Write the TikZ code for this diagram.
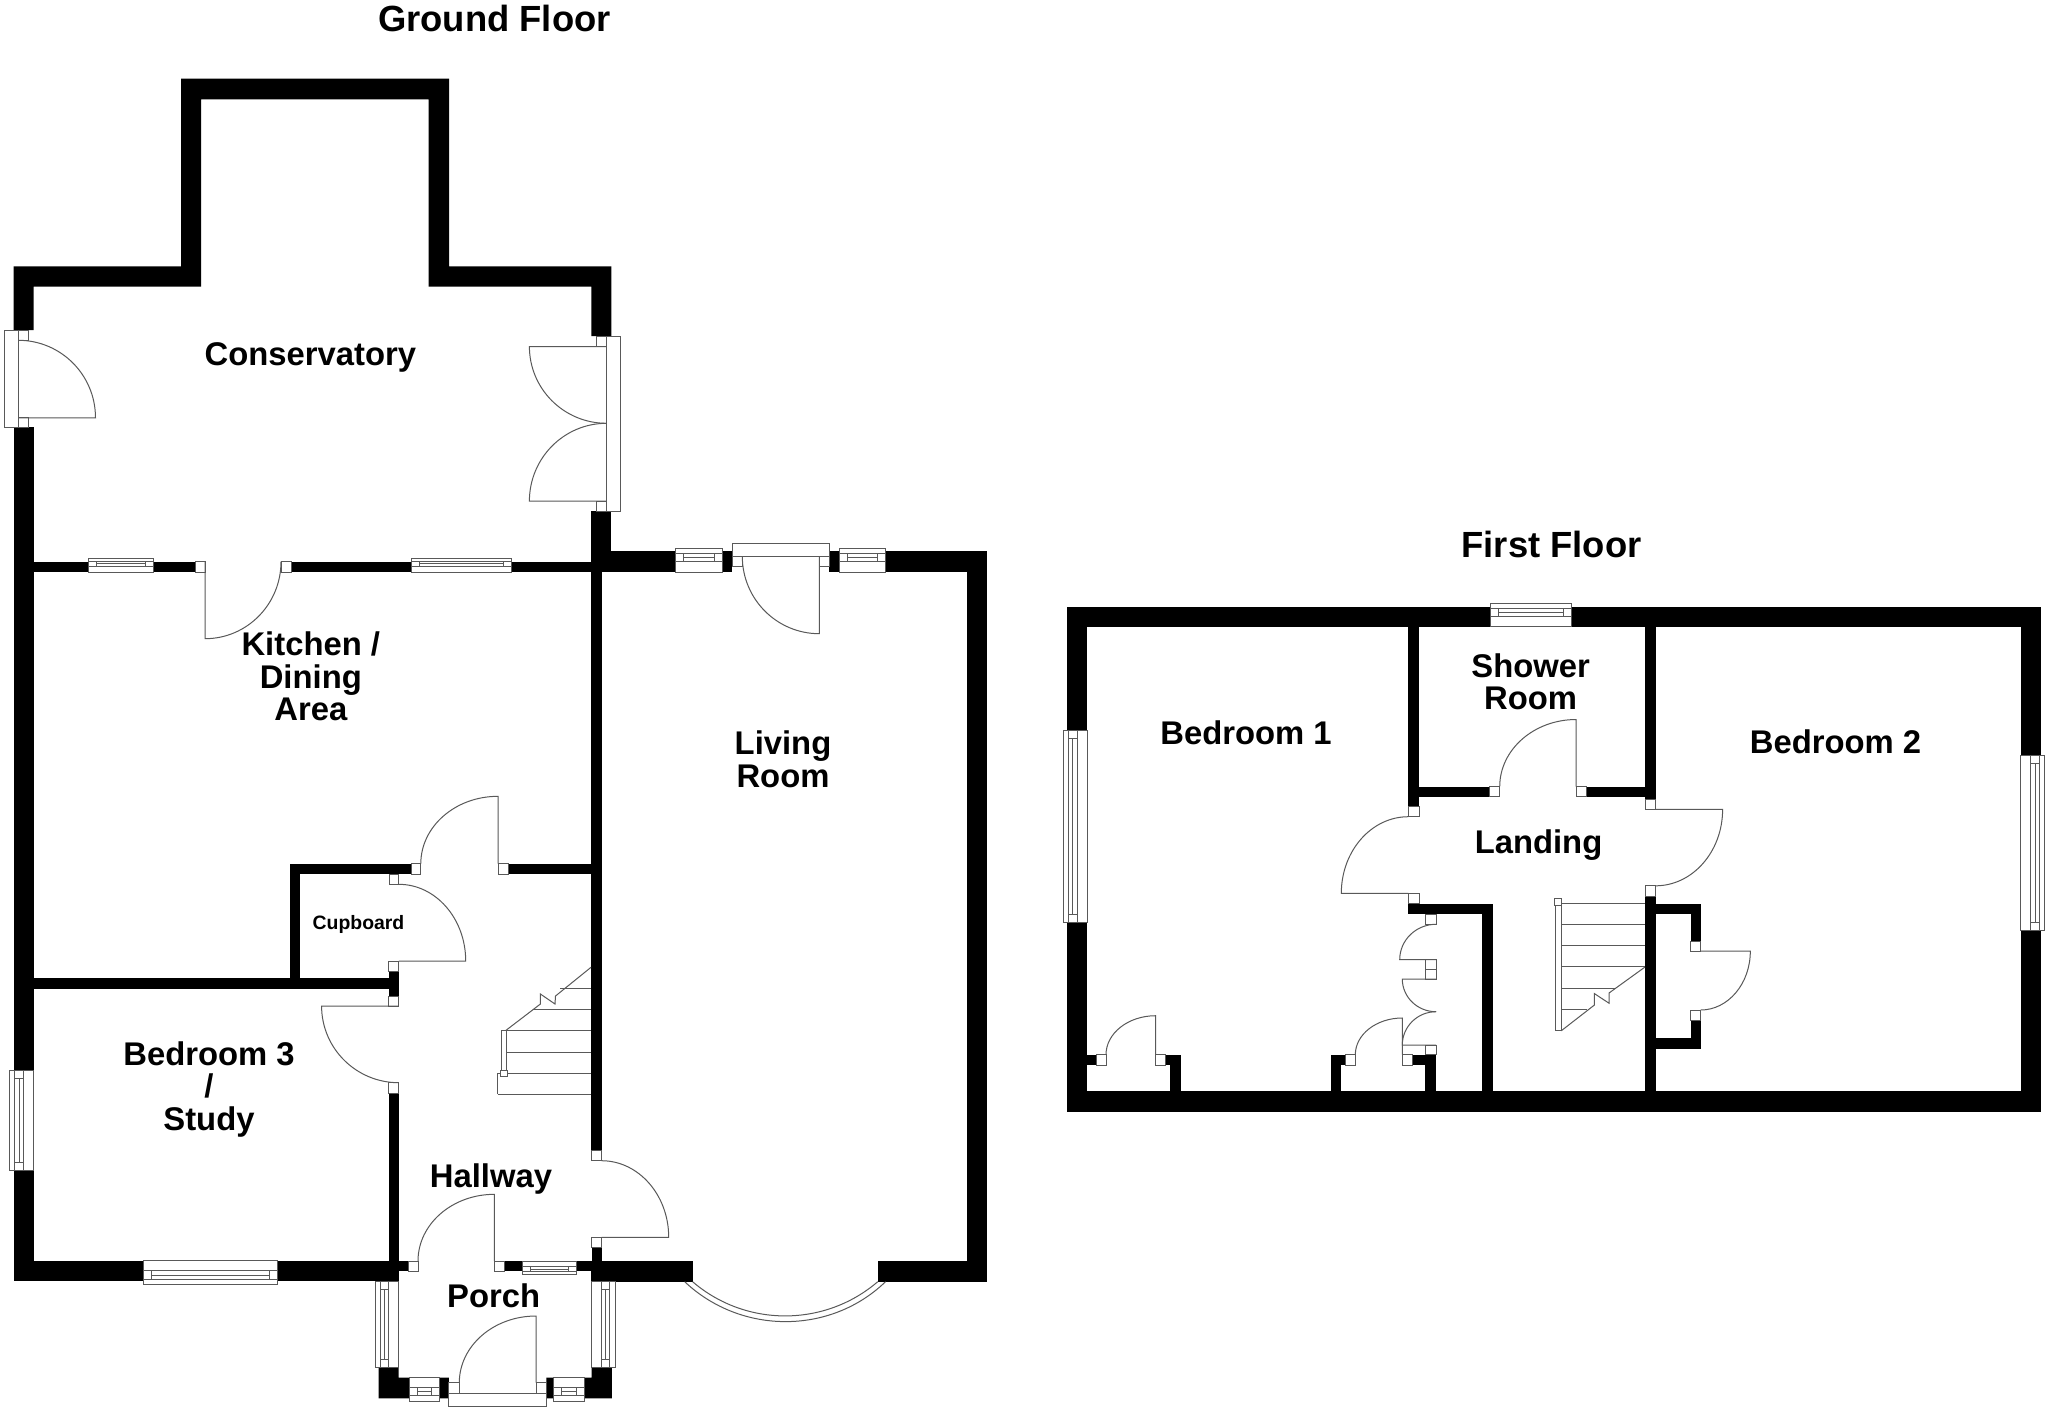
\documentclass[tikz,border=0pt]{standalone}
\usepackage{fontspec}
\setmainfont{Liberation Sans}
\usetikzlibrary{calc}
\tikzset{
  wall/.style={fill=black,draw=none},
  planline/.style={draw=black!65,line width=0.5pt},
  jamb/.style={planline,fill=white},
  room/.style={font=\bfseries\fontsize{16.4}{16.3}\selectfont,align=center,inner sep=0pt},
  smallroom/.style={font=\bfseries\fontsize{9.7}{10}\selectfont,align=center,inner sep=0pt},
  floortitle/.style={font=\bfseries\fontsize{18.2}{20}\selectfont,inner sep=0pt},
}
% window along a wall: #1,#2 are the ends, #3 the outer face, #4 the inner face
\newcommand{\windowh}[4]{%
  \pgfmathsetmacro{\wina}{#3+0.22*(#4-#3)}%
  \pgfmathsetmacro{\winb}{#3+0.39*(#4-#3)}%
  \pgfmathsetmacro{\winc}{#3+0.58*(#4-#3)}%
  \draw[jamb] (#1,#3) rectangle (#2,#4);
  \draw[planline] (#1,\wina)--(#2,\wina) (#1,\winc)--(#2,\winc);
  \draw[planline] (#1+8,\wina) rectangle (#2-8,\winc);
  \draw[planline] (#1+8,\winb)--(#2-8,\winb);
}
\newcommand{\windowv}[4]{%
  \pgfmathsetmacro{\wina}{#3+0.22*(#4-#3)}%
  \pgfmathsetmacro{\winb}{#3+0.39*(#4-#3)}%
  \pgfmathsetmacro{\winc}{#3+0.58*(#4-#3)}%
  \draw[jamb] (#3,#1) rectangle (#4,#2);
  \draw[planline] (\wina,#1)--(\wina,#2) (\winc,#1)--(\winc,#2);
  \draw[planline] (\wina,#1+8) rectangle (\winc,#2-8);
  \draw[planline] (\winb,#1+8)--(\winb,#2-8);
}
% door leaf from hinge #1 to tip #2, then its swing to #3
\newcommand{\doorswing}[3]{%
  \draw[planline] (#1)--(#2) .. controls ($(#2)+0.5523*(#3)-0.5523*(#1)$) and ($(#3)+0.5523*(#2)-0.5523*(#1)$) .. (#3);
}
\begin{document}
\begin{tikzpicture}[x=0.5pt,y=-0.5pt]
\useasboundingbox (0,0) rectangle (2048,1408);
\fill[white] (0,0) rectangle (2048,1408);

\fill[wall] (13.5,330)--(13.5,266.3)--(181,266.3)--(181,78.6)--(449,78.6)--(449,266.3)--(611.4,266.3)--(611.4,336.2)--(591.4,336.2)--(591.4,286.6)--(428.6,286.6)--(428.6,99.3)--(201,99.3)--(201,286.6)--(33.5,286.6)--(33.5,330)--cycle;
\fill[wall] (13.5,427.4) rectangle (33.5,1070.3);
\fill[wall] (13.5,1170.3) rectangle (33.5,1281.3);
\fill[wall] (13.5,1260.7) rectangle (143.7,1281.3);
\fill[wall] (277.7,1260.7) rectangle (398.7,1281.3);
\fill[wall] (398.7,1260.7) rectangle (408,1271);
\fill[wall] (591.4,511) rectangle (611.4,572);
\fill[wall] (33.5,561.7) rectangle (195,572);
\fill[wall] (291.3,561.7) rectangle (591.4,572);
\fill[wall] (611,551.3) rectangle (732.3,572);
\fill[wall] (829.3,551.3) rectangle (987.4,572);
\fill[wall] (966.7,551.3) rectangle (987.4,1281.7);
\fill[wall] (877.7,1261) rectangle (987.4,1281.7);
\fill[wall] (591.3,1261) rectangle (692.6,1281.7);
\fill[wall] (591,572) rectangle (601.7,1150.7);
\fill[wall] (591.5,1247.3) rectangle (601.5,1261);
\fill[wall] (33.5,977.7) rectangle (388.6,988.7);
\fill[wall] (388.6,971) rectangle (398.8,996.3);
\fill[wall] (289.8,863.7) rectangle (300.4,977.7);
\fill[wall] (289.8,863.7) rectangle (411,874.3);
\fill[wall] (508.2,863.7) rectangle (591,874.3);
\fill[wall] (388.6,1093) rectangle (398.7,1261);
\fill[wall] (504.8,1261) rectangle (591.5,1271);
\fill[wall] (378.6,1367.7)--(398.5,1367.7)--(398.5,1377.7)--(448.8,1377.7)--(448.8,1398.3)--(378.6,1398.3)--cycle;
\fill[wall] (611.9,1367.7)--(591.5,1367.7)--(591.5,1377.7)--(546.4,1377.7)--(546.4,1398.3)--(611.9,1398.3)--cycle;

\draw[jamb] (4.5,330) rectangle (18.4,427.4);
\draw[jamb] (606.5,336.2) rectangle (620,511);
\windowh{88.6}{153}{558.3}{572}
\windowh{411.4}{511.8}{558.3}{572}
\windowh{675.7}{722.3}{548}{572}
\windowh{839.7}{885.3}{548}{572}
\windowv{1070.3}{1170.3}{9.7}{33.7}
\windowh{143.7}{277.7}{1284.7}{1260.7}
\windowh{522}{576.3}{1274.3}{1261}
\windowv{1281.7}{1367.7}{375.6}{398.5}
\windowv{1281.7}{1367.7}{615}{591.5}
\windowh{409}{439.3}{1401}{1377.7}
\windowh{553.4}{584.1}{1401}{1377.7}

\draw[jamb] (18.4,330.7) rectangle (28.6,340.3);
\draw[jamb] (18.4,417.8) rectangle (28.6,427.4);
\draw[jamb] (596.3,336.8) rectangle (606.5,346.5);
\draw[jamb] (596.3,501.1) rectangle (606.5,511);
\draw[jamb] (195,561.7) rectangle (205,572);
\draw[jamb] (281,561.7) rectangle (291.3,572);
\draw[jamb] (732.3,543) rectangle (829.3,556.3);
\draw[jamb] (732.3,556.3) rectangle (742.3,566.7);
\draw[jamb] (819.3,556.3) rectangle (829.3,566.7);
\draw[jamb] (388.6,961) rectangle (398.8,971);
\draw[jamb] (388.6,996.3) rectangle (398.8,1006);
\draw[jamb] (389,874.3) rectangle (398.8,884.3);
\draw[jamb] (411,863.7) rectangle (420.8,874.3);
\draw[jamb] (498,863.7) rectangle (508.2,874.3);
\draw[jamb] (388.6,1082.7) rectangle (398.7,1093);
\draw[jamb] (591.5,1150.7) rectangle (601.5,1160.7);
\draw[jamb] (591.5,1237.3) rectangle (601.5,1247.3);
\draw[jamb] (408,1261) rectangle (418,1271.3);
\draw[jamb] (494.4,1261) rectangle (504.8,1271.3);
\draw[jamb] (448.8,1393.3) rectangle (546.4,1406.7);
\draw[jamb] (448.8,1382.7) rectangle (459.3,1393.3);
\draw[jamb] (536,1382.7) rectangle (546.4,1393.3);

\doorswing{18.4,417.8}{95.5,417.8}{18.4,340.3}
\doorswing{606.5,346.5}{529.4,346.5}{606.5,423.3}
\doorswing{606.5,501.1}{529.4,501.1}{606.5,423.3}
\doorswing{205,561.7}{205,638.7}{281,561.7}
\doorswing{819.3,556.3}{819.3,633.7}{742.3,556.3}
\doorswing{498,863.7}{498,796.3}{420.8,863.7}
\doorswing{398.8,961}{465.7,961}{398.8,884.3}
\doorswing{398.8,1006}{321.6,1006}{398.8,1082.7}
\doorswing{601.5,1237.3}{668.7,1237.3}{601.5,1160.7}
\doorswing{494.4,1261}{494.4,1194.3}{418,1261}
\doorswing{536,1382.7}{536,1316}{459.3,1382.7}

\draw[planline] (684.7,1281.7) .. controls (741,1334.9) and (830.5,1334.9) .. (885.5,1281.7);
\draw[planline] (692.6,1281.7) .. controls (745.7,1327.3) and (824.6,1327.3) .. (877.7,1281.7);

\draw[planline] (591,967.3)--(555.5,996)--(555,1004)--(540.4,994)--(540.4,1004)--(506,1030.3);
\draw[planline] (560,988.3)--(591,988.3);
\draw[planline] (533,1009.7)--(591,1009.7);
\draw[planline] (506,1030.3)--(591,1030.3);
\draw[planline] (506,1052)--(591,1052);
\draw[planline] (497.6,1073.3)--(591,1073.3);
\draw[planline] (497.6,1094.3)--(591,1094.3);
\draw[planline] (497.6,1073.3)--(497.6,1094.3);
\draw[planline] (501,1030.3) rectangle (506,1070.3);
\draw[jamb] (500.4,1070.3) rectangle (507.8,1076.7);

\fill[wall] (1066.7,606.7) rectangle (1490.3,627.3);
\fill[wall] (1571.7,606.7) rectangle (2041,627.3);
\fill[wall] (1066.7,606.7) rectangle (1087.3,730);
\fill[wall] (1066.7,922.3) rectangle (1087.3,1112.3);
\fill[wall] (1066.7,1091.3) rectangle (2041,1112.3);
\fill[wall] (2020.8,606.7) rectangle (2041,755.6);
\fill[wall] (2020.8,930.2) rectangle (2041,1112.3);
\fill[wall] (1408.3,627.3) rectangle (1419,806.7);
\fill[wall] (1419,786.7) rectangle (1489,796.7);
\fill[wall] (1586,786.7) rectangle (1645,796.7);
\fill[wall] (1645,627.3) rectangle (1655.5,799);
\fill[wall] (1645,896) rectangle (1655.5,1091.3);
\fill[wall] (1655.5,903.7) rectangle (1700.6,914);
\fill[wall] (1690.5,903.7) rectangle (1700.6,941.2);
\fill[wall] (1690.5,1020.5) rectangle (1700.6,1048.7);
\fill[wall] (1655.5,1038.3) rectangle (1700.6,1048.7);
\fill[wall] (1408.3,903.7) rectangle (1492.7,914.3);
\fill[wall] (1482.3,903.7) rectangle (1492.7,1091.3);
\fill[wall] (1412.3,1054.7) rectangle (1436,1065.3);
\fill[wall] (1425.3,1054.7) rectangle (1436,1091.3);
\fill[wall] (1330.7,1054.7) rectangle (1345.3,1065.3);
\fill[wall] (1330.7,1054.7) rectangle (1341.3,1091.3);
\fill[wall] (1087.3,1054.7) rectangle (1096,1065.3);
\fill[wall] (1165.3,1054.7) rectangle (1180.7,1065.3);
\fill[wall] (1170.3,1054.7) rectangle (1180.7,1091.3);

\windowv{730}{922.3}{1063.7}{1087.3}
\windowv{755.6}{930.2}{2044.6}{2020.8}
\windowh{1490.3}{1571.7}{603.3}{626.7}

\draw[jamb] (1408.3,806.7) rectangle (1419,816.7);
\draw[jamb] (1408.3,893.3) rectangle (1419,903.7);
\draw[jamb] (1489,786.7) rectangle (1499.7,796.7);
\draw[jamb] (1576.2,786.7) rectangle (1586,796.7);
\draw[jamb] (1645,799) rectangle (1655.5,809.4);
\draw[jamb] (1645,885.8) rectangle (1655.5,896);
\draw[jamb] (1690.5,941.2) rectangle (1700.6,951.2);
\draw[jamb] (1690.5,1010) rectangle (1700.6,1020.5);
\draw[jamb] (1425.3,914.3) rectangle (1436,924.3);
\draw[jamb] (1425.3,959.7) rectangle (1436,969);
\draw[jamb] (1425.3,969) rectangle (1436,979);
\draw[jamb] (1425.3,1045) rectangle (1436,1054.7);
\draw[jamb] (1402.3,1054.7) rectangle (1412.3,1065.3);
\draw[jamb] (1345.3,1054.7) rectangle (1355.3,1065.3);
\draw[jamb] (1096,1054.7) rectangle (1106,1065.3);
\draw[jamb] (1155.7,1054.7) rectangle (1165.3,1065.3);

\doorswing{1408.3,893.3}{1341.3,893.3}{1408.3,816.7}
\doorswing{1576.2,786.7}{1576.2,719.5}{1499.7,786.7}
\doorswing{1655.5,809.4}{1722.6,809.4}{1655.5,885.8}
\doorswing{1700.6,951.2}{1750.3,951.2}{1700.6,1010}
\doorswing{1436,959.7}{1399.7,959.7}{1436,924.3}
\doorswing{1436,979}{1402.3,979}{1436,1011.7}
\doorswing{1436,1045}{1402.3,1045}{1436,1011.7}
\doorswing{1402.3,1054.7}{1402.3,1018}{1355.3,1054.7}
\doorswing{1155.7,1054.7}{1155.7,1015.7}{1106,1054.7}

\draw[planline] (1561.2,903)--(1645,903);
\draw[planline] (1561.2,924.4)--(1645,924.4);
\draw[planline] (1561.2,945.4)--(1645,945.4);
\draw[planline] (1561.2,966.7)--(1645,966.7);
\draw[planline] (1561.2,988)--(1616,988);
\draw[planline] (1561.2,1009.4)--(1587.4,1009.4);
\draw[planline] (1555.6,905)--(1555.6,1030.8)--(1561.2,1030.8)--(1561.2,905);
\draw[planline] (1561.2,1030.8)--(1594.4,1005)--(1594.4,993.6)--(1609,1003.2)--(1609,993)--(1645,967);
\draw[jamb] (1554.5,898.9) rectangle (1561.5,905.4);

\node[floortitle] (node-ground) at (494.4,18) {Ground Floor};
\node[floortitle] (node-first) at (1551.5,544.6) {First Floor};
\node[room] (node-conservatory) at (310.4,357) {Conservatory};
\node[room] (node-kitchen) at (310.8,676.3) {Kitchen /\\Dining\\Area};
\node[room] (node-living) at (783,759.5) {Living\\Room};
\node[smallroom] (node-cupboard) at (358.5,924.5) {Cupboard};
\node[room] (node-bedroom3) at (209,1089.5) {Bedroom 3\\/\\Study};
\node[room] (node-hallway) at (491,1179.3) {Hallway};
\node[room] (node-porch) at (493.7,1296) {Porch};
\node[room] (node-bedroom1) at (1246,732.7) {Bedroom 1};
\node[room] (node-shower) at (1530.6,681.7) {Shower\\Room};
\node[room] (node-landing) at (1538.5,845) {Landing};
\node[room] (node-bedroom2) at (1835.5,741.8) {Bedroom 2};
\end{tikzpicture}
\end{document}
